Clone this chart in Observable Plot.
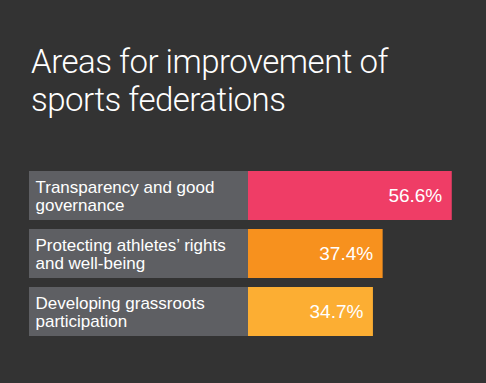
<!DOCTYPE html>
<html>
<head>
<meta charset="utf-8">
<script src="https://cdn.jsdelivr.net/npm/d3@7"></script>
<script src="https://cdn.jsdelivr.net/npm/@observablehq/plot@0.6"></script>
<style>
  html, body { margin: 0; padding: 0; background: #333333; }
  #wrap { position: relative; width: 486px; height: 383px; background: #333333; overflow: hidden; }
  #title { position: absolute; left: 31px; top: 43px; margin: 0; color: #ffffff;
    font-family: Roboto, "Liberation Sans", sans-serif; font-weight: 300;
    font-size: 33px; letter-spacing: -0.5px; line-height: 38px; white-space: nowrap; }
  #chart { position: absolute; left: 0; top: 150px; }
</style>
</head>
<body>
<div id="wrap">
  <div id="title">Areas for improvement of<br>sports federations</div>
  <div id="chart"></div>
</div>
<script>
const categories = [
  "Transparency and good\ngovernance",
  "Protecting athletes’ rights\nand well-being",
  "Developing grassroots\nparticipation"
];
const values = [56.6, 37.4, 34.7];
const colors = ["#ef3d66", "#f7911e", "#fcae33"];

const data = categories.map((c, i) => ({category: c, value: values[i]}));

const chart = Plot.plot({
  width: 486,
  height: 233,
  style: {background: "transparent"},
  x: {domain: [0, 100], range: [248, 608], axis: null},
  y: {domain: categories, range: [20, 187], paddingInner: 0.16, paddingOuter: 0, axis: null},
  color: {domain: categories, range: colors},
  marks: [
    Plot.barX(data, {x1: 0, x2: 0, y: "category", insetLeft: -219, fill: "#5e5f63"}),
    Plot.barX(data, {x: "value", y: "category", fill: "category"}),
    Plot.text(data, {x: 0, y: "category", text: "category", dx: -213, textAnchor: "start",
      fill: "#ffffff", fontSize: 17, lineHeight: 1.08, fontFamily: "Liberation Sans, Arial, sans-serif"}),
    Plot.text(data, {x: "value", y: "category", text: d => d.value.toFixed(1) + "%", dx: -10,
      textAnchor: "end", fill: "#ffffff", fontSize: 19, fontFamily: "Liberation Sans, Arial, sans-serif"})
  ]
});
document.getElementById("chart").appendChild(chart);
</script>
</body>
</html>
